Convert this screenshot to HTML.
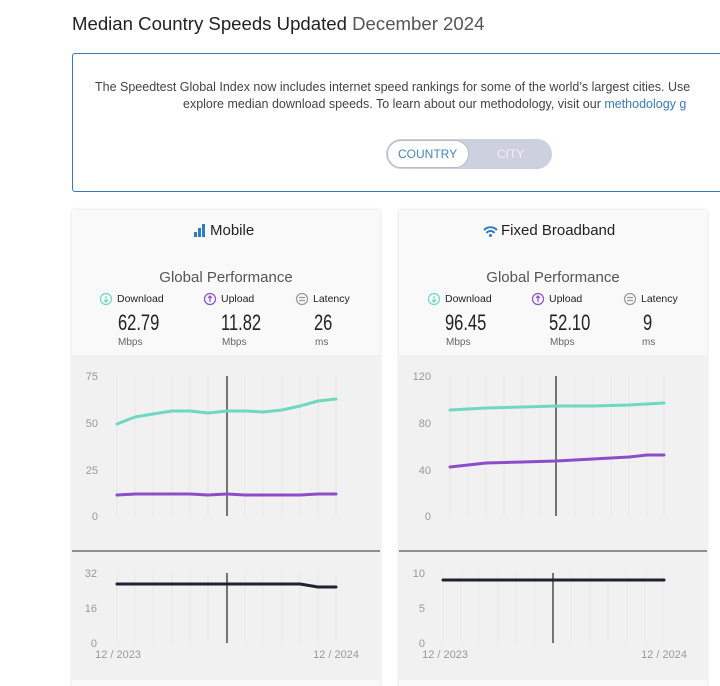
<!DOCTYPE html>
<html><head><meta charset="utf-8"><style>
body{margin:0;width:720px;height:686px;overflow:hidden;background:#fff;font-family:"Liberation Sans",sans-serif;color:#333;position:relative}
.a{position:absolute;white-space:nowrap}
</style></head><body>
<div class="a" style="left:72px;top:13px;font-size:18.6px;color:#222">Median Country Speeds Updated <span style="color:#555">December 2024</span></div>
<div class="a" style="left:72px;top:53px;width:660px;height:137px;border:1.5px solid #3a7ab8;border-radius:3px"></div>
<div class="a" style="left:95px;top:80px;font-size:12.5px;color:#444">The Speedtest Global Index now includes internet speed rankings for some of the world’s largest cities. Use</div>
<div class="a" style="left:183px;top:97px;font-size:12.5px;color:#444">explore median download speeds. To learn about our methodology, visit our <span style="color:#3a7ab8">methodology g</span></div>
<div class="a" style="left:386px;top:139px;width:166px;height:30px;background:#cdd0de;border-radius:15px"></div>
<div class="a" style="left:387px;top:140px;width:82px;height:28px;background:#fff;border-radius:14px;border:1px solid #bbb;box-sizing:border-box"></div>
<div class="a" style="left:398px;top:147px;font-size:12px;color:#4a85b8">COUNTRY</div>
<div class="a" style="left:497px;top:147px;font-size:12px;color:#eef">CITY</div>
<svg class="a" style="left:0;top:0" width="720" height="686">
<defs><filter id="s"><feDropShadow dx="0" dy="0" stdDeviation="1.5" flood-opacity="0.15"/></filter></defs>
<rect x="72" y="210" width="308" height="480" fill="#f9f9f9" filter="url(#s)"/>
<rect x="399" y="210" width="308" height="480" fill="#f9f9f9" filter="url(#s)"/>
<rect x="72" y="355" width="308" height="325" fill="#f1f1f1"/>
<rect x="399" y="355" width="308" height="325" fill="#f1f1f1"/>
<g stroke="#e6e6e6" stroke-width="1">
<path d="M117 376V516M135 376V516M153 376V516M172 376V516M190 376V516M208 376V516M245 376V516M263 376V516M282 376V516M300 376V516M318 376V516M336 376V516"/>
<path d="M117 573V643M135 573V643M153 573V643M172 573V643M190 573V643M208 573V643M245 573V643M263 573V643M282 573V643M300 573V643M318 573V643M336 573V643"/>
<path d="M450 376V516M468 376V516M486 376V516M504 376V516M522 376V516M540 376V516M575 376V516M593 376V516M611 376V516M629 376V516M647 376V516M664 376V516"/>
<path d="M443 573V643M461 573V643M479 573V643M498 573V643M516 573V643M535 573V643M571 573V643M590 573V643M608 573V643M627 573V643M645 573V643M663 573V643"/>
</g>
<line x1="72" y1="551" x2="380" y2="551" stroke="#555" stroke-width="1.2"/>
<line x1="399" y1="551" x2="707" y2="551" stroke="#555" stroke-width="1.2"/>
<g stroke="#222" stroke-width="1.2"><path d="M227 376V516M227 573V643M556 376V516M553 573V643"/></g>
<g fill="none" stroke-width="3" stroke-linejoin="round" stroke-linecap="round">
<polyline stroke="#6fd8c0" points="117,424 135,417 153,414 172,411 190,411 208,413 227,411 245,411 263,412 282,410 300,406 318,401 336,399"/>
<polyline stroke="#8a4fc8" points="117,495 135,494 153,494 172,494 190,494 208,495 227,494 245,495 263,495 282,495 300,495 318,494 336,494"/>
<polyline stroke="#1f2330" points="117,584 282,584 300,584 318,587 336,587"/>
<polyline stroke="#6fd8c0" points="450,410 486,408 522,407 556,406 593,406 629,405 647,404 664,403"/>
<polyline stroke="#8a4fc8" points="450,467 486,463 522,462 556,461 593,459 629,457 647,455 664,455"/>
<polyline stroke="#1f2330" points="443,580 664,580"/>
</g>
<g font-family="Liberation Sans" font-size="11" fill="#999" text-anchor="end">
<text x="98" y="380">75</text><text x="98" y="427">50</text><text x="98" y="474">25</text><text x="98" y="520">0</text>
<text x="97" y="577">32</text><text x="97" y="612">16</text><text x="97" y="647">0</text>
<text x="431" y="380">120</text><text x="431" y="427">80</text><text x="431" y="474">40</text><text x="431" y="520">0</text>
<text x="425" y="577">10</text><text x="425" y="612">5</text><text x="425" y="647">0</text>
<text x="141" y="658">12 / 2023</text><text x="359" y="658">12 / 2024</text>
<text x="468" y="658">12 / 2023</text><text x="687" y="658">12 / 2024</text>
</g>
<g fill="#2f7dbf"><rect x="194" y="232" width="3" height="5"/><rect x="198" y="228" width="3" height="9"/><rect x="202" y="224" width="3" height="13"/></g>
<g fill="none" stroke="#2f7dbf" stroke-width="2"><path d="M484 230a9 9 0 0 1 13 0M486.5 233a5 5 0 0 1 8 0"/></g><circle cx="490.5" cy="235.5" r="1.5" fill="#2f7dbf"/>
<g fill="none" stroke-width="1.2">
<circle cx="106" cy="299" r="5.5" stroke="#6fd8c0"/><circle cx="210" cy="299" r="5.5" stroke="#8a4fc8"/><circle cx="302" cy="299" r="5.5" stroke="#999"/>
<circle cx="434" cy="299" r="5.5" stroke="#6fd8c0"/><circle cx="538" cy="299" r="5.5" stroke="#8a4fc8"/><circle cx="630" cy="299" r="5.5" stroke="#999"/>
<path d="M106 296v6M104 300l2 2 2-2M434 296v6M432 300l2 2 2-2" stroke="#6fd8c0"/>
<path d="M210 302v-6M208 298l2-2 2 2M538 302v-6M536 298l2-2 2 2" stroke="#8a4fc8"/>
<path d="M299 297.5h6M299 300.5h6M627 297.5h6M627 300.5h6" stroke="#999"/>
</g>
</svg>
<div class="a" style="left:210px;top:222px;font-size:15px;color:#222">Mobile</div>
<div class="a" style="left:501px;top:222px;font-size:15px;color:#222">Fixed Broadband</div>
<div class="a" style="left:72px;width:308px;top:269px;text-align:center;font-size:15px;color:#555">Global Performance</div>
<div class="a" style="left:399px;width:308px;top:269px;text-align:center;font-size:15px;color:#555">Global Performance</div>
<div class="a" style="left:117px;top:293px;font-size:10.5px;color:#222">Download</div>
<div class="a" style="left:221px;top:293px;font-size:10.5px;color:#222">Upload</div>
<div class="a" style="left:313px;top:293px;font-size:10.5px;color:#222">Latency</div>
<div class="a" style="left:445px;top:293px;font-size:10.5px;color:#222">Download</div>
<div class="a" style="left:549px;top:293px;font-size:10.5px;color:#222">Upload</div>
<div class="a" style="left:641px;top:293px;font-size:10.5px;color:#222">Latency</div>
<div class="a" style="left:118px;top:310px;font-size:22px;color:#222;transform:scaleX(.75);transform-origin:left">62.79</div>
<div class="a" style="left:221px;top:310px;font-size:22px;color:#222;transform:scaleX(.75);transform-origin:left">11.82</div>
<div class="a" style="left:314px;top:310px;font-size:22px;color:#222;transform:scaleX(.75);transform-origin:left">26</div>
<div class="a" style="left:445px;top:310px;font-size:22px;color:#222;transform:scaleX(.75);transform-origin:left">96.45</div>
<div class="a" style="left:549px;top:310px;font-size:22px;color:#222;transform:scaleX(.75);transform-origin:left">52.10</div>
<div class="a" style="left:643px;top:310px;font-size:22px;color:#222;transform:scaleX(.75);transform-origin:left">9</div>
<div class="a" style="left:118px;top:337px;font-size:10px;color:#666">Mbps</div>
<div class="a" style="left:222px;top:337px;font-size:10px;color:#666">Mbps</div>
<div class="a" style="left:315px;top:337px;font-size:10px;color:#666">ms</div>
<div class="a" style="left:446px;top:337px;font-size:10px;color:#666">Mbps</div>
<div class="a" style="left:550px;top:337px;font-size:10px;color:#666">Mbps</div>
<div class="a" style="left:642px;top:337px;font-size:10px;color:#666">ms</div>
</body></html>
